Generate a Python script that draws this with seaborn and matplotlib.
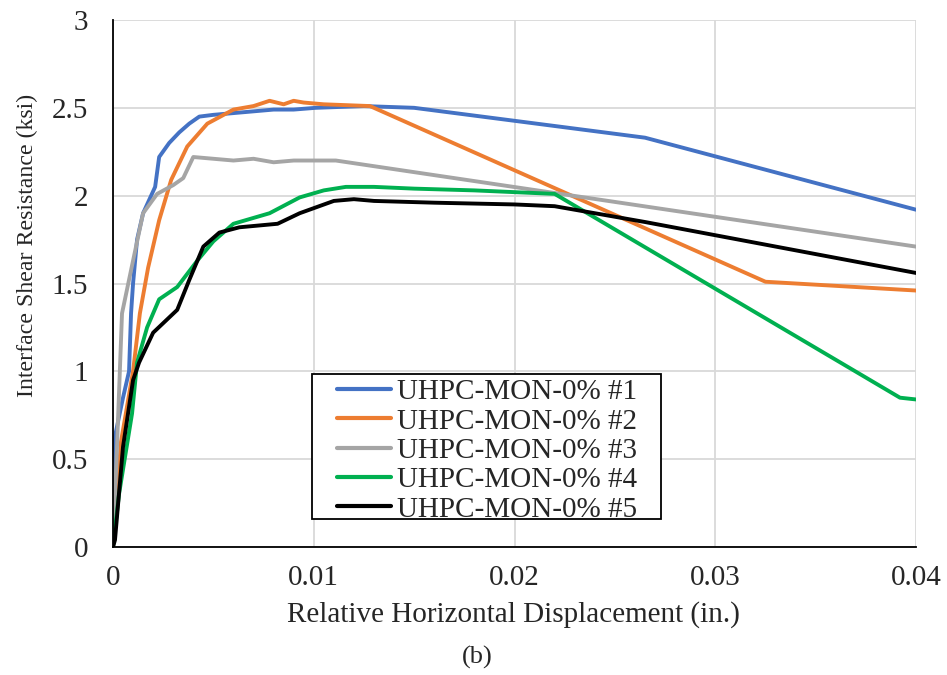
import pandas as pd
import matplotlib
matplotlib.use("Agg")
import matplotlib.pyplot as plt
from matplotlib.patches import Rectangle
import seaborn as sns

# values (displacement in., resistance ksi)
x1 = [0, 0.0001, 0.0005, 0.0008, 0.0009, 0.001, 0.0012, 0.0015, 0.0021, 0.0023, 0.0028, 0.0033,
      0.0038, 0.0043, 0.005, 0.006, 0.007, 0.008, 0.009, 0.0101, 0.0125, 0.015, 0.0265, 0.04]
y1 = [0, 0.63, 0.85, 1.0, 1.33, 1.5, 1.75, 1.9, 2.05, 2.22, 2.3, 2.36,
      2.41, 2.45, 2.46, 2.47, 2.48, 2.49, 2.49, 2.50, 2.51, 2.50, 2.33, 1.92]

x2 = [0, 0.0004, 0.001, 0.00134, 0.00175, 0.0023, 0.0029, 0.0037, 0.0047, 0.006, 0.007,
      0.0078, 0.0085, 0.009, 0.0095, 0.0105, 0.0128, 0.0325, 0.04]
y2 = [0, 0.6, 1.0, 1.33, 1.59, 1.86, 2.09, 2.28, 2.41, 2.49, 2.51,
      2.54, 2.52, 2.54, 2.53, 2.52, 2.51, 1.51, 1.46]

x3 = [0, 0.0002, 0.00045, 0.001, 0.0015, 0.0022, 0.003, 0.0035, 0.004, 0.005, 0.006, 0.007,
      0.008, 0.009, 0.0111, 0.04]
y3 = [0, 0.57, 1.33, 1.63, 1.90, 2.01, 2.06, 2.10, 2.22, 2.21, 2.20, 2.21,
      2.19, 2.20, 2.20, 1.71]

x4 = [0, 0.0003, 0.00095, 0.0012, 0.0017, 0.0023, 0.0032, 0.0042, 0.005, 0.006, 0.0078,
      0.0093, 0.0105, 0.0116, 0.013, 0.015, 0.018, 0.022, 0.0392, 0.04]
y4 = [0, 0.3, 0.76, 1.05, 1.25, 1.41, 1.48, 1.63, 1.74, 1.84, 1.90,
      1.99, 2.03, 2.05, 2.05, 2.04, 2.03, 2.01, 0.85, 0.84]

x5 = [0, 0.0001, 0.0005, 0.001, 0.0013, 0.002, 0.0032, 0.0038, 0.0045, 0.0053, 0.0063,
      0.0082, 0.0093, 0.011, 0.012, 0.013, 0.016, 0.02, 0.022, 0.0265, 0.04]
y5 = [0, 0.04, 0.57, 0.95, 1.05, 1.22, 1.35, 1.52, 1.71, 1.79, 1.82,
      1.84, 1.90, 1.97, 1.98, 1.97, 1.96, 1.95, 1.94, 1.85, 1.56]

labels = ["UHPC-MON-0% #1", "UHPC-MON-0% #2", "UHPC-MON-0% #3",
          "UHPC-MON-0% #4", "UHPC-MON-0% #5"]
colors = ["#4472C4", "#ED7D31", "#A5A5A5", "#00B050", "#000000"]

frames = []
for lab, xs, ys in zip(labels, [x1, x2, x3, x4, x5], [y1, y2, y3, y4, y5]):
    frames.append(pd.DataFrame({"x": xs, "y": ys, "test": lab}))
df = pd.concat(frames, ignore_index=True)

sns.set_style("white")
plt.rcParams["font.family"] = ["Liberation Serif", "DejaVu Serif"]

fig, ax = plt.subplots(figsize=(9.47, 6.75), dpi=100)
fig.subplots_adjust(left=0.1193, right=0.9673, top=0.9704, bottom=0.1896)

sns.lineplot(data=df, x="x", y="y", hue="test", palette=colors, sort=False,
             estimator=None, linewidth=2.8, ax=ax)

ax.set_xlim(0, 0.04)
ax.set_ylim(0, 3)
ax.set_xticks([0, 0.01, 0.02, 0.03, 0.04])
ax.set_xticklabels(["0", "0.01", "0.02", "0.03", "0.04"])
ax.set_yticks([0, 0.5, 1, 1.5, 2, 2.5, 3])
ax.set_yticklabels(["0", "0.5", "1", "1.5", "2", "2.5", "3"])
ax.grid(True, color="#D9D9D9", linewidth=1.3)
ax.tick_params(labelsize=21, length=0)
ax.tick_params(axis="x", pad=13)
ax.tick_params(axis="y", pad=18)
for s in ["top", "right"]:
    ax.spines[s].set_visible(False)
for s in ["left", "bottom"]:
    ax.spines[s].set_color("black")
    ax.spines[s].set_linewidth(1.3)

ax.set_xlabel("Relative Horizontal Displacement (in.)", fontsize=21)
ax.xaxis.set_label_coords(0.499, -0.103)
ax.set_ylabel("Interface Shear Resistance (ksi)", fontsize=17.2)
ax.yaxis.set_label_coords(-0.093, 0.573)

leg = ax.legend(loc="upper left", bbox_to_anchor=(0.279, 0.319), fontsize=21,
                frameon=False, handlelength=1.85, labelspacing=0.1,
                borderpad=0, handletextpad=0.2, borderaxespad=0)
for h in leg.get_lines():
    h.set_linewidth(3)
ax.add_patch(Rectangle((0.2478, 0.0531), 0.4346, 0.2752, transform=ax.transAxes,
                       fill=True, facecolor="white", edgecolor="black",
                       linewidth=1.3, zorder=4))
leg.set_zorder(5)

fig.text(0.504, 0.0267, "(b)", fontsize=19, ha="center", va="center")

fig.savefig("out.png", dpi=100)
